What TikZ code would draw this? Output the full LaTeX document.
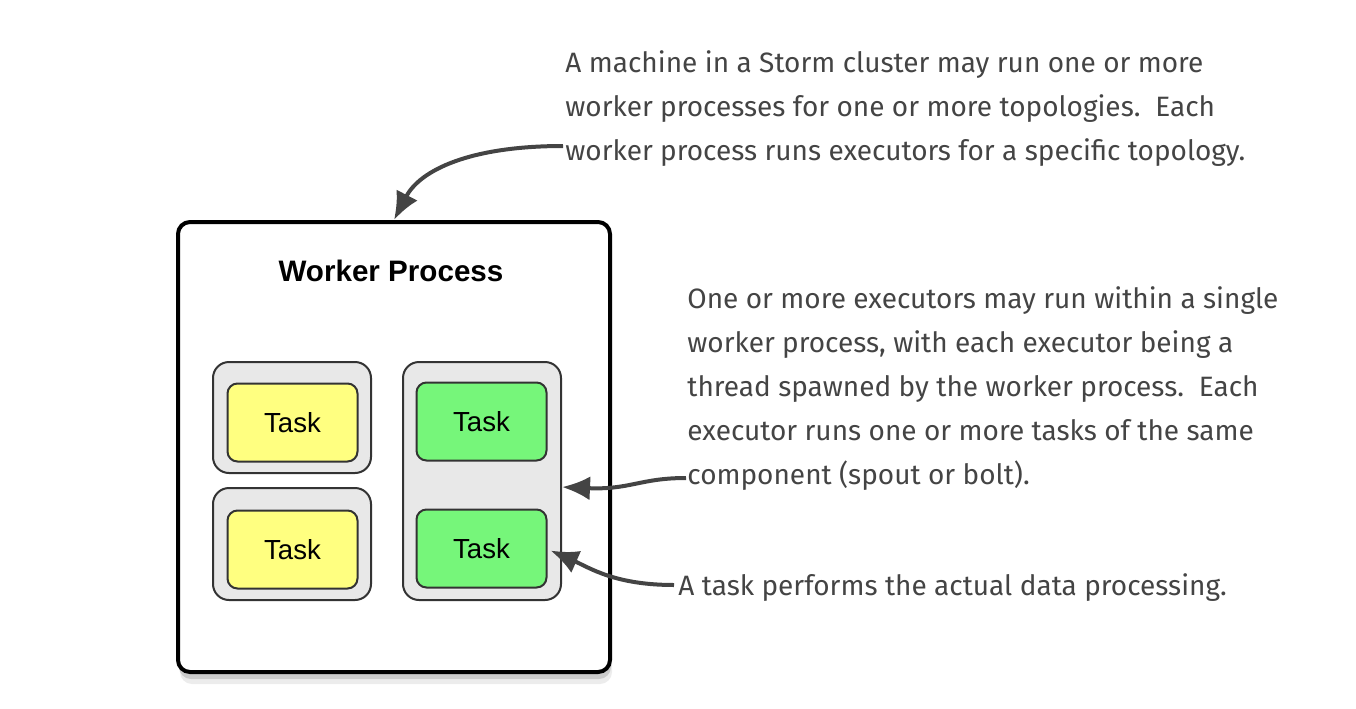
\documentclass[tikz,border=0pt]{standalone}
\usepackage{fontspec}
\setmainfont{Liberation Sans}
\newfontfamily\notefont{Fira Sans}
\usetikzlibrary{shadows, arrows.meta}

\definecolor{taskyellow}{RGB}{255,255,128}
\definecolor{taskgreen}{RGB}{118,246,122}
\definecolor{execgray}{RGB}{232,232,232}
\definecolor{notegray}{RGB}{68,68,68}

\begin{document}
\begin{tikzpicture}[x=0.5pt,y=-0.5pt,inner sep=0pt,
  worker/.style={draw, line width=2pt, rounded corners=6pt, fill=white,
    drop shadow={shadow xshift=1pt, shadow yshift=-6pt, opacity=0.15},
    drop shadow={shadow xshift=0.5pt, shadow yshift=-3.5pt, opacity=0.3}},
  executor/.style={draw=black!80, line width=1pt, rounded corners=8pt, fill=execgray,
    minimum width=79pt},
  task/.style={draw=black!80, line width=1pt, rounded corners=5pt,
    minimum width=65pt, minimum height=39pt, font=\fontsize{13.8}{16}\selectfont},
  note/.style={anchor=north west, align=left, text=notegray,
    font=\notefont\fontsize{14}{22}\selectfont},
  pointer/.style={draw=notegray, line width=2pt, -{Latex[length=14pt,width=12pt]}}]
  \useasboundingbox (0,0) rectangle (1356,708);

  % worker process with its executors
  \node[worker, minimum width=216pt, minimum height=225pt] (wp) at (394,447) {};
  \node[font=\bfseries\fontsize{14.8}{18}\selectfont] (title) at (391,271) {Worker Process};
  \node[executor, minimum height=55.5pt] (ex1) at (292,417.5) {};
  \node[executor, minimum height=56pt] (ex2) at (292,544) {};
  \node[executor, minimum height=119pt] (ex3) at (482,481) {};

  % tasks
  \node[task, fill=taskyellow] (ty1) at (292.5,422.5) {Task};
  \node[task, fill=taskyellow] (ty2) at (292.5,549.5) {Task};
  \node[task, fill=taskgreen] (tg1) at (481.5,421.5) {Task};
  \node[task, fill=taskgreen] (tg2) at (481.5,548.5) {Task};

  % notes
  \node[note] (machine) at (565,50) {A machine in a Storm cluster may run one or more\\
    worker processes for one or more topologies.\ \ Each\\
    worker process runs executors for a specific topology.};
  \node[note] (execnote) at (687,286) {One or more executors may run within a single\\
    worker process, with each executor being a\\
    thread spawned by the worker process.\ \ Each\\
    executor runs one or more tasks of the same\\
    component (spout or bolt).};
  \node[note] (tasknote) at (678,573) {A task performs the actual data processing.};

  \coordinate (m1) at (563,146);
  \coordinate (e1) at (686,478);
  \coordinate (t1) at (674,585);

  % pointers
  \draw[pointer] (m1) .. controls (470,146) and (420,170) .. (wp.north);
  \draw[pointer] (e1) .. controls (640,478) and (630,490) .. ([yshift=-3pt]ex3.east);
  \draw[pointer] (t1) .. controls (615,585) and (590,568) .. ([shift={(3,2)}]tg2.east);
\end{tikzpicture}
\end{document}
